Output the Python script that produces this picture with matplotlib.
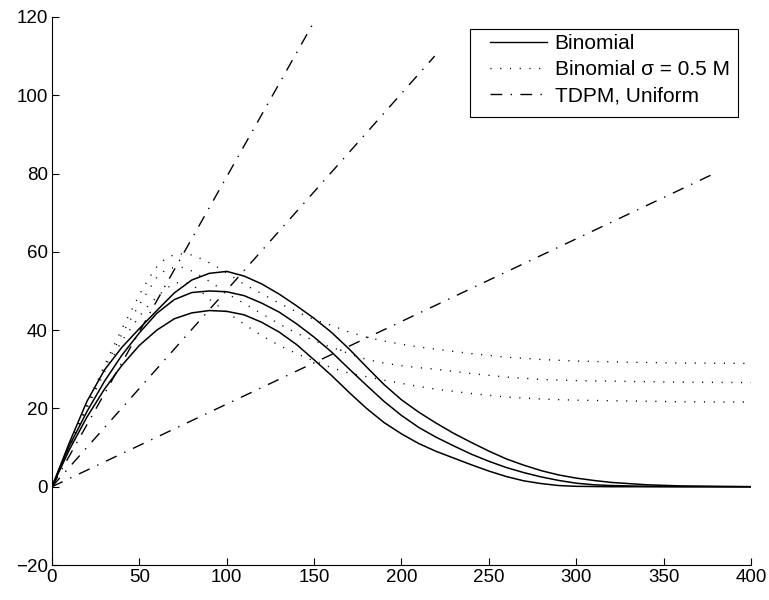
import matplotlib
matplotlib.use("Agg")
import matplotlib.pyplot as plt
from matplotlib.patches import Rectangle
import numpy as np

# Binomial (solid) - three curves, peaks 45 / 50 / 55
x_bin = [0, 10, 20, 30, 40, 50, 60, 70, 80, 90, 100, 110, 120, 130, 140, 150, 160, 170, 180,
         190, 200, 210, 220, 230, 240, 250, 260, 270, 280, 290, 300, 310, 320, 340, 360, 380, 400]
bin_low = [0, 9.5, 17.8, 24.9, 31.0, 36.1, 40.0, 42.9, 44.4, 45.0, 44.8, 43.9, 42.0, 39.5, 36.3, 32.4,
           28.4, 24.1, 20.0, 16.4, 13.5, 11.0, 9.0, 7.3, 5.6, 4.0, 2.6, 1.5, 0.8, 0.3, 0.1, 0.05, 0, 0, 0, 0, 0]
bin_mid = [0, 10.5, 19.2, 26.9, 33.6, 39.3, 44.3, 47.8, 49.6, 50.0, 49.8, 48.8, 46.9, 44.6, 41.6, 38.2,
           34.4, 30.1, 25.9, 21.8, 18.2, 15.1, 12.6, 10.4, 8.3, 6.5, 4.9, 3.6, 2.5, 1.6, 0.9, 0.5, 0.3, 0.1, 0.03, 0, 0]
bin_high = [0, 11.3, 21.8, 29.8, 35.6, 40.4, 45.0, 49.5, 52.8, 54.5, 55.0, 53.8, 51.8, 49.2, 46.2, 43.0,
            39.4, 35.2, 30.6, 26.1, 22.2, 19.0, 16.2, 13.6, 11.3, 9.1, 7.1, 5.5, 4.1, 3.0, 2.2, 1.6, 1.1, 0.5, 0.2, 0.1, 0]

# Binomial sigma = 0.5 M (dotted)
x_sig = [0, 10, 20, 30, 40, 50, 55, 60, 65, 70, 75, 80, 85, 90, 95, 100, 110, 120, 130, 140, 150, 160,
         170, 180, 190, 200, 210, 220, 240, 260, 280, 300, 330, 360, 400]
sig_low = [0, 10.0, 20.0, 29.3, 37.3, 43.5, 46.2, 48.5, 50.5, 52.0, 52.3, 51.6, 50.0, 47.9, 46.2, 44.6,
           41.5, 38.6, 36.1, 34.0, 32.1, 30.4, 29.0, 28.1, 27.2, 26.4, 25.6, 24.9, 23.8, 22.9, 22.4,
           22.1, 21.9, 21.7, 21.6]
sig_mid = [0, 10.3, 20.5, 30.2, 39.0, 46.5, 50.0, 53.5, 55.4, 56.0, 56.0, 55.1, 53.8, 52.5, 51.0, 49.4,
           46.8, 44.2, 41.6, 39.2, 37.3, 35.6, 34.0, 32.5, 31.6, 30.9, 30.4, 30.0, 28.9, 28.0, 27.4,
           27.1, 26.9, 26.7, 26.6]
sig_high = [0, 10.5, 21.0, 31.0, 40.3, 49.0, 53.0, 56.2, 58.3, 59.3, 59.5, 59.2, 58.3, 57.2, 56.0, 54.6,
            51.7, 49.3, 46.9, 44.7, 42.7, 41.2, 39.5, 38.2, 37.2, 36.4, 35.7, 35.1, 34.0, 33.1, 32.5,
            32.1, 31.8, 31.6, 31.5]

# TDPM, Uniform (dash-dot straight lines from origin)
tdpm_x = [[0, 149], [0, 219], [0, 379]]
tdpm_y = [[0, 118], [0, 110], [0, 80]]

plt.rcParams['font.family'] = ['Liberation Sans', 'DejaVu Sans']
plt.rcParams['lines.scale_dashes'] = False

W, H = 769, 600
fig = plt.figure(figsize=(W / 100, H / 100), dpi=100)
ax = fig.add_axes([0.0676, 0.0583, 0.909, 0.9135])

dotted = (0, (0.8, 6.2))
dashdot = (0, (8.5, 6, 1, 6))

for ys in (bin_low, bin_mid, bin_high):
    ax.plot(x_bin, ys, color='black', linewidth=1.1)
for ys in (sig_low, sig_mid, sig_high):
    ax.plot(x_sig, ys, color='black', linewidth=1.0, linestyle=dotted)
for xs, ys in zip(tdpm_x, tdpm_y):
    ax.plot(xs, ys, color='black', linewidth=1.0, linestyle=dashdot)

ax.set_xlim(0, 400)
ax.set_ylim(-20, 120)
ax.set_xticks(np.arange(0, 401, 50))
ax.set_yticks(np.arange(-20, 121, 20))
ax.set_yticklabels(['\u221220', '0', '20', '40', '60', '80', '100', '120'])
ax.tick_params(direction='in', length=5, width=0.8, labelsize=13.5, pad=3)
ax.spines['top'].set_visible(False)
ax.spines['right'].set_visible(False)

# legend box drawn separately (wider left margin as in the original)
fig.patches.append(Rectangle((470 / W, 1 - 117 / H), 268 / W, 88 / H, transform=fig.transFigure,
                             fill=True, facecolor='white', edgecolor='black', linewidth=0.8, zorder=5))

handles = [
    plt.Line2D([], [], color='black', linewidth=1.0),
    plt.Line2D([], [], color='black', linewidth=1.0, linestyle=dotted),
    plt.Line2D([], [], color='black', linewidth=1.0, linestyle=dashdot),
]
labels = ['Binomial', 'Binomial \u03c3 = 0.5 M', 'TDPM, Uniform']
leg = fig.legend(handles, labels, loc='upper left', bbox_to_anchor=(490 / W, 1 - 34 / H),
                 fontsize=15, frameon=False, handlelength=2.75, handletextpad=0.35,
                 borderpad=0, labelspacing=0.35, borderaxespad=0)
leg.set_zorder(6)

fig.savefig('out.png', dpi=100)
